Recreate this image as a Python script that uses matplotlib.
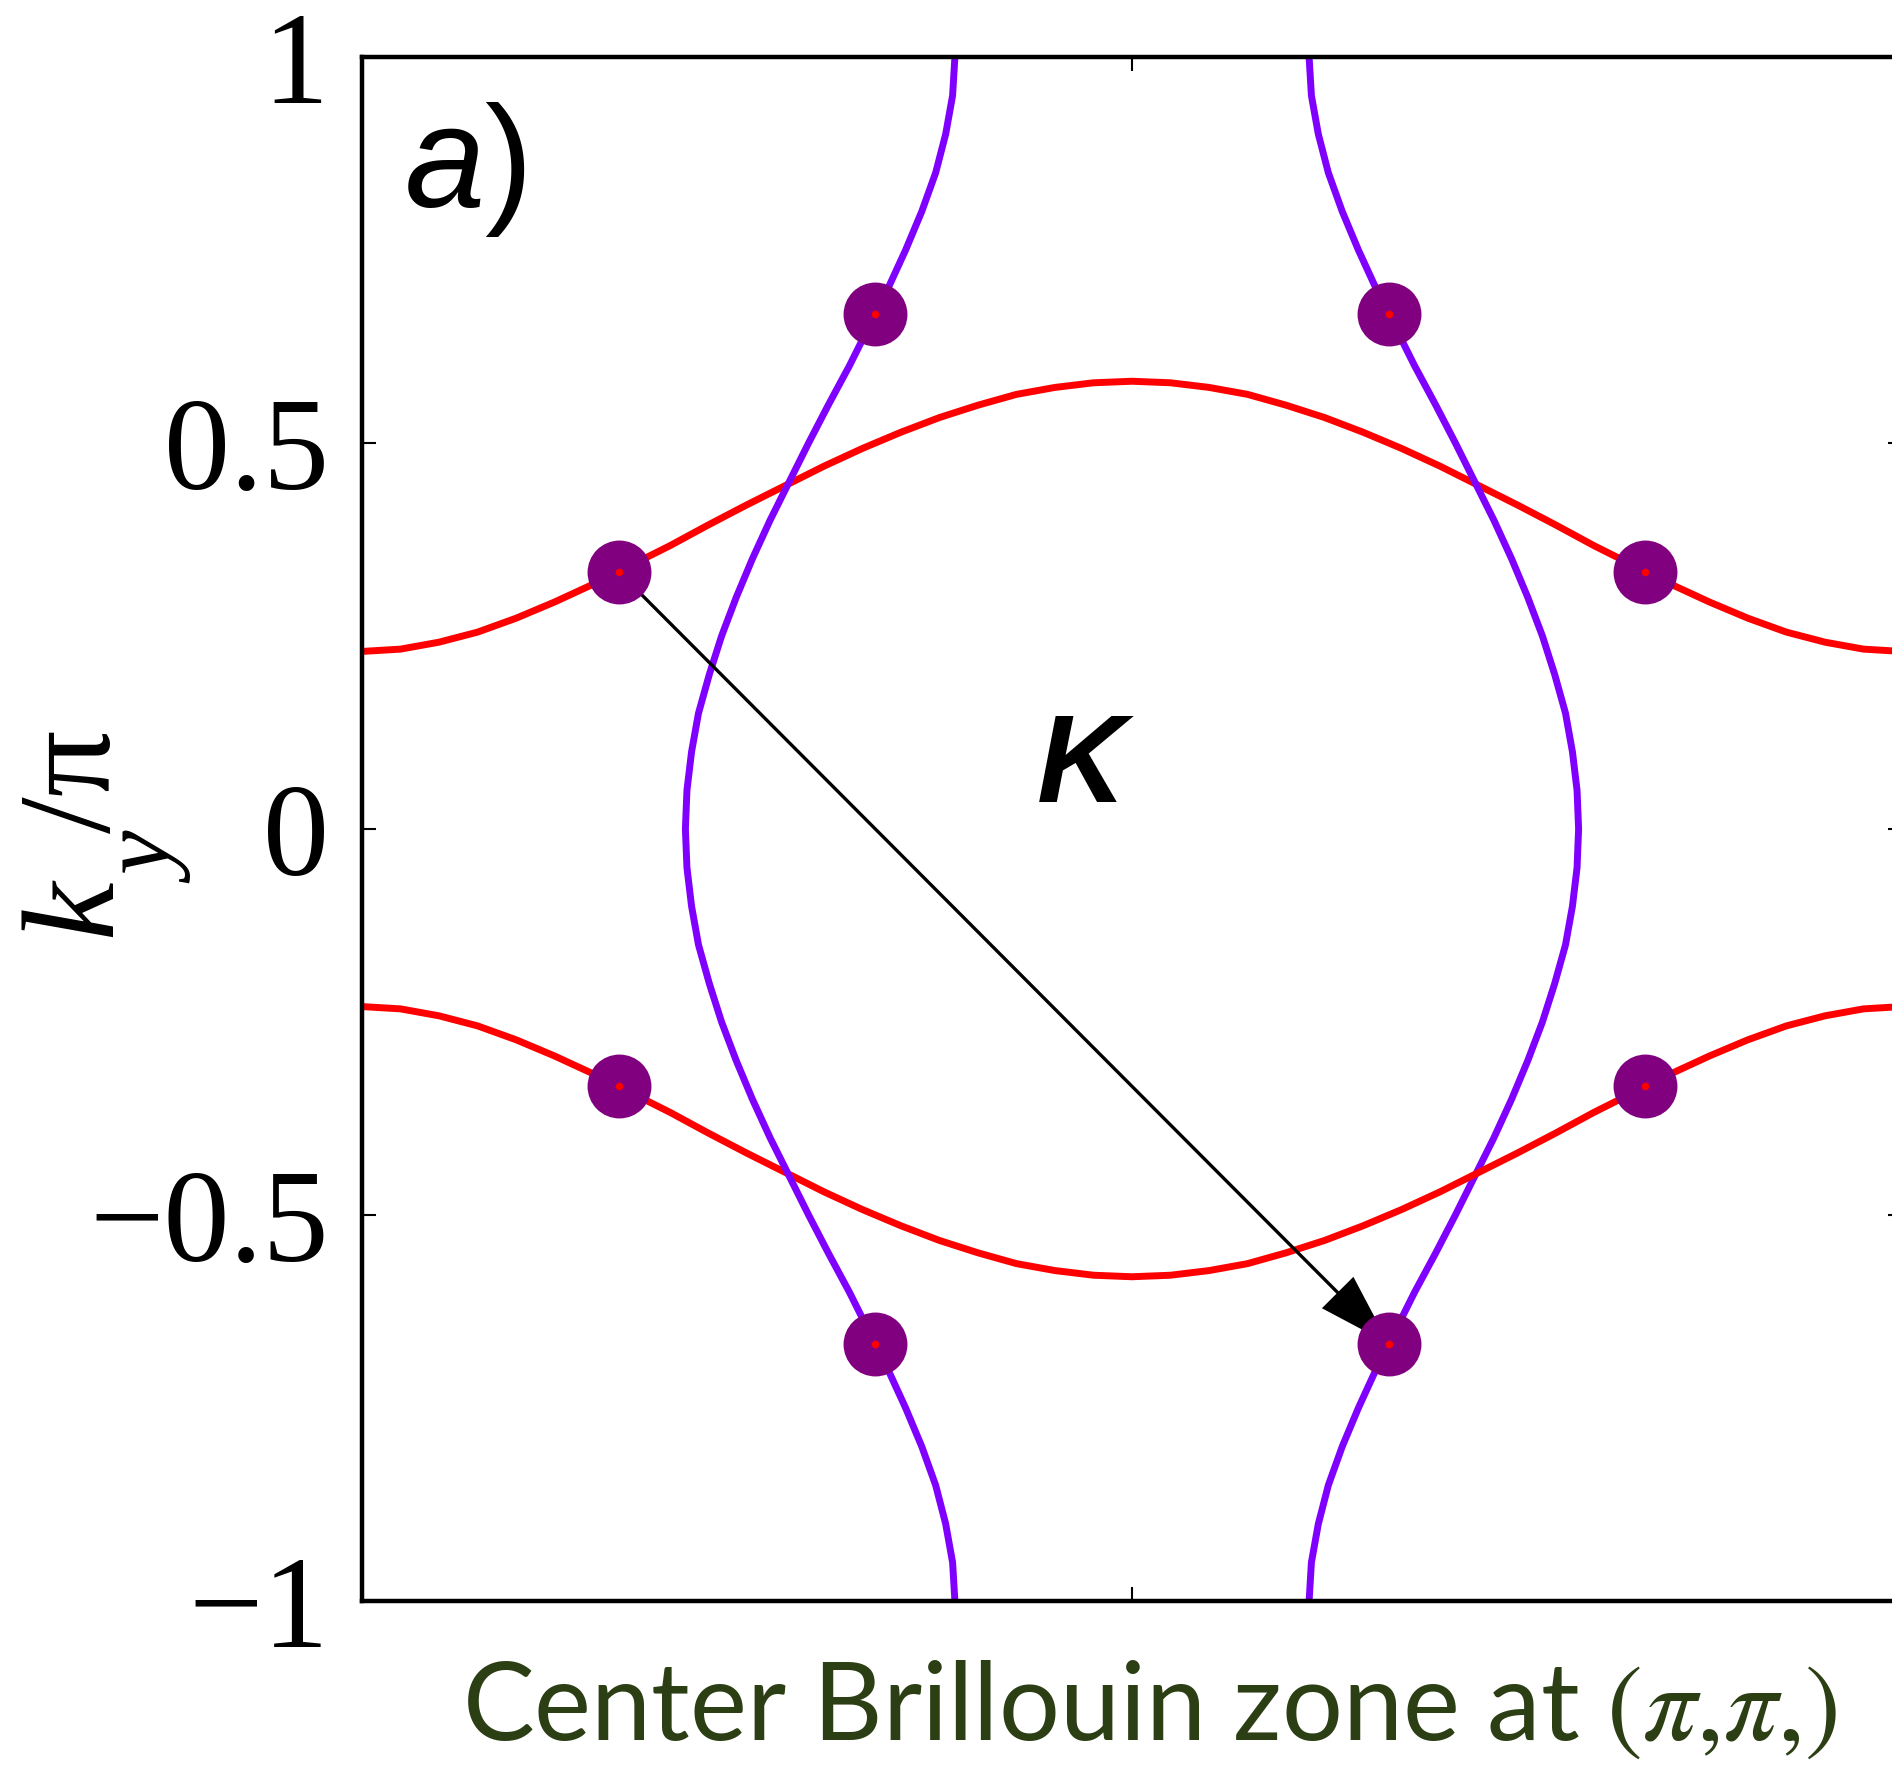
import numpy as np
import matplotlib
matplotlib.use("Agg")
import matplotlib.pyplot as plt

# ---------------- data ----------------
# half Fermi-surface contour: ky/pi as function of kx/pi (0 .. 1), symmetric in kx
kx_half = [0.00, 0.05, 0.10, 0.15, 0.20, 0.25, 0.30, 0.35, 0.40, 0.45, 0.50,
           0.55, 0.60, 0.65, 0.70, 0.75, 0.80, 0.85, 0.90, 0.95, 1.00]
ky_half = [0.580, 0.578, 0.572, 0.563, 0.549, 0.533, 0.514, 0.493, 0.470, 0.445, 0.420,
           0.394, 0.367, 0.342, 0.317, 0.294, 0.273, 0.255, 0.242, 0.233, 0.230]

# hot spots (nesting points)
dot_x = [-2/3, 2/3, -2/3, 2/3, -1/3, 1/3, -1/3, 1/3]
dot_y = [1/3, 1/3, -1/3, -1/3, 2/3, 2/3, -2/3, -2/3]

# nesting vector
arrow_start = (-2/3, 1/3)
arrow_end = (1/3, -2/3)

yticks = [-1, -0.5, 0, 0.5, 1]
yticklabels = ["\u22121", "\u22120.5", "0", "0.5", "1"]
xticks = [-1, 0, 1]

# ---------------- figure ----------------
W, H = 1892, 1766
fig = plt.figure(figsize=(W / 100, H / 100), dpi=100)
ax = fig.add_axes([362 / W, (H - 1601) / H, 1540 / W, 1544 / H])

kx = np.array(kx_half)
ky = np.array(ky_half)
cx = np.concatenate([-kx[::-1], kx[1:]])
cy = np.concatenate([ky[::-1], ky[1:]])

red = "#ff0000"
violet = "#8000ff"
for s in (1, -1):
    ax.plot(cx, s * cy, color=red, lw=5.0, solid_capstyle="butt",
            solid_joinstyle="round", zorder=2)
    ax.plot(s * cy, cx, color=violet, lw=5.0, solid_capstyle="butt",
            solid_joinstyle="round", zorder=2)

ax.annotate("", xy=arrow_end, xytext=arrow_start,
            arrowprops=dict(facecolor="black", edgecolor="black", lw=0,
                            width=2.4, headwidth=32, headlength=52, shrink=0.0),
            zorder=3)

ax.plot(dot_x, dot_y, "o", ms=46, color="#800080", mec="none", zorder=4)
ax.plot(dot_x, dot_y, "o", ms=5.5, color=red, mec="none", zorder=5)

ax.set_xlim(-1, 1)
ax.set_ylim(-1, 1)
ax.set_xticks(xticks)
ax.set_xticklabels([])
ax.set_yticks(yticks)
ax.set_yticklabels(yticklabels, fontfamily="Liberation Serif", fontsize=95)
ax.tick_params(direction="in", top=True, right=True, length=10, width=1.5, pad=24)
for sp in ax.spines.values():
    sp.set_linewidth(3.2)

# labels inside
ax.text(-0.066, 0.035, "K", fontfamily="Liberation Sans", fontweight="bold",
        fontstyle="italic", fontsize=89, ha="center", va="baseline", zorder=6)

plt.rcParams["mathtext.fontset"] = "custom"
plt.rcParams["mathtext.it"] = "Liberation Sans:italic"
plt.rcParams["mathtext.rm"] = "Liberation Sans"
ax.text(-0.946, 0.806, r"$\mathit{a}$)", fontfamily="Liberation Sans", fontsize=104,
        ha="left", va="baseline", math_fontfamily="custom", zorder=6)

# y label composed as k, subscript y, /pi (Times-like)
def ftxt(x, y, s, **kw):
    fig.text(x / W, (H - y) / H, s, rotation=90, rotation_mode="anchor",
             ha="left", va="baseline", fontfamily="Liberation Serif", **kw)

ftxt(110, 937, "k", fontsize=95, fontstyle="italic")
ftxt(178, 883, "y", fontsize=72, fontstyle="italic")
ftxt(110, 833, "/\u03c0", fontsize=95)

# x label
fig.text(1150 / W, (H - 1740) / H, r"Center Brillouin zone at $(\pi{,}\pi{,})$",
         fontfamily="Lato", math_fontfamily="stix", fontsize=77.5,
         color="#2c3e14", ha="center", va="baseline")

fig.savefig("out.png", dpi=100)
